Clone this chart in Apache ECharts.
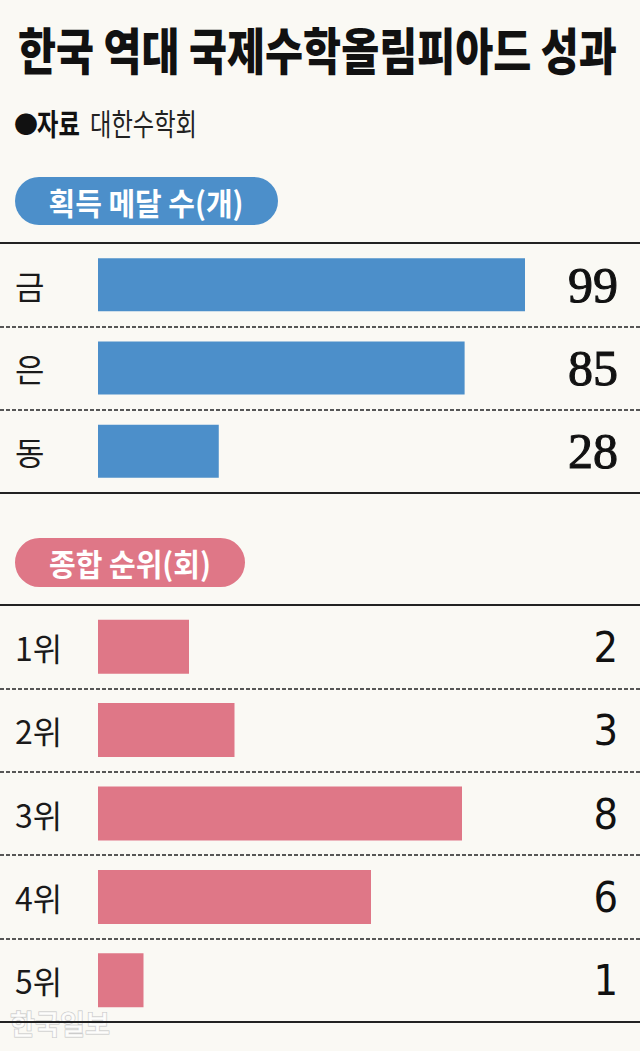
<!DOCTYPE html>
<html><head><meta charset="utf-8">
<script src="https://cdn.jsdelivr.net/npm/echarts@6/dist/echarts.min.js"></script>
<style>html,body{margin:0;padding:0;background:#FAF9F4}#c{width:640px;height:1051px}</style>
</head><body><div id="c"></div>
<script>
// ---- data ----
const titleText = '한국 역대 국제수학올림피아드 성과';
const sourceBullet = '●';
const sourceLabel = '자료';
const sourceName = '대한수학회';
const medalHeader = '획득 메달 수(개)';
const rankHeader = '종합 순위(회)';
const watermarkText = '한국일보';
const medalCategories = ['금', '은', '동'];
const medalValues = [99, 85, 28];
const rankCategories = ['1위', '2위', '3위', '4위', '5위'];
const rankValues = [2, 3, 8, 6, 1];

// ---- layout / style ----
const W = 640;
const KR = '"Noto Sans CJK KR", "Noto Sans", sans-serif';
const BLUE = '#4C8FCA';
const PINK = '#DF7787';
const INK = '#1a1a1a';
const LINE = '#222';
const PLOT_X0 = 98;          // where bars start
const MEDAL_PX = 427;        // px length of the longest medal bar
const RANK_PX = 364;         // px length of the longest rank bar

const mctx = document.createElement('canvas').getContext('2d');
function tw(text, size, weight, family) {
  mctx.font = weight + ' ' + size + 'px ' + family;
  return mctx.measureText(text).width;
}
function range(values, px) {
  const k = px / Math.max.apply(null, values);
  return { min: -PLOT_X0 / k, max: (W - PLOT_X0) / k };
}
const mR = range(medalValues, MEDAL_PX);
const rR = range(rankValues, RANK_PX);

function xAx(grid, pos, r) {
  return {
    gridIndex: grid, type: 'value', position: pos, min: r.min, max: r.max,
    axisLine: { show: true, onZero: false, lineStyle: { color: LINE, width: 2 } },
    axisTick: { show: false }, axisLabel: { show: false }, splitLine: { show: false }
  };
}
function yLeft(grid, cats) {
  return {
    gridIndex: grid, type: 'category', data: cats, inverse: true, position: 'left',
    axisLine: { show: false }, axisTick: { show: false },
    axisLabel: { inside: true, margin: 15, interval: 0, fontSize: 32, color: INK, fontFamily: KR },
    splitLine: { show: true, showMinLine: false, showMaxLine: false,
      lineStyle: { type: [4, 2], color: LINE, width: 1.5 } }
  };
}
function yRight(grid, vals, font, size, border) {
  return {
    gridIndex: grid, type: 'category', data: vals.map(String), inverse: true, position: 'right',
    axisLine: { show: false }, axisTick: { show: false }, splitLine: { show: false },
    axisLabel: { inside: true, margin: 22, interval: 0, fontSize: size,
      color: '#111', fontFamily: font, textBorderColor: '#111', textBorderWidth: border }
  };
}

// header graphics (text horizontally condensed to match the original lettering)
const titleSize = 50, titleW = 599;
const titleScale = titleW / tw(titleText, titleSize, '900', KR);
const srcSize = 30;
const srcScale = 107 / tw(sourceName, srcSize, 'normal', KR);
const pillSize = 31;
const p1Scale = 195 / tw(medalHeader, pillSize, 'bold', KR);
const p2Scale = 162 / tw(rankHeader, pillSize, 'bold', KR);
const wmScale = 100 / tw(watermarkText, 28, 'bold', KR);

function scaledText(x, y, sx, text, style, align) {
  return {
    type: 'group', x: x, y: y, scaleX: sx, silent: true,
    children: [{ type: 'text', x: 0, y: 0,
      style: Object.assign({ text: text, align: align || 'left', verticalAlign: 'middle' }, style) }]
  };
}

const graphic = [
  scaledText(18, 48, titleScale, titleText, { fontSize: titleSize, fontWeight: '900', fontFamily: KR, fill: '#111' }),
  scaledText(14, 122, 1, sourceBullet, { fontSize: 24, fontFamily: KR, fill: '#111' }),
  scaledText(37, 122, srcScale, sourceLabel, { fontSize: srcSize, fontWeight: 'bold', fontFamily: KR, fill: '#111' }),
  scaledText(90, 122, srcScale, sourceName, { fontSize: srcSize, fontWeight: 'normal', fontFamily: KR, fill: '#222' }),
  { type: 'rect', silent: true, shape: { x: 15, y: 177, width: 263, height: 48, r: 24 }, style: { fill: BLUE } },
  scaledText(146, 202, p1Scale, medalHeader, { fontSize: pillSize, fontWeight: 'bold', fontFamily: KR, fill: '#fff' }, 'center'),
  { type: 'rect', silent: true, shape: { x: 15, y: 538, width: 230, height: 49, r: 24.5 }, style: { fill: PINK } },
  scaledText(130, 563, p2Scale, rankHeader, { fontSize: pillSize, fontWeight: 'bold', fontFamily: KR, fill: '#fff' }, 'center'),
  Object.assign(scaledText(10, 1023, wmScale, watermarkText,
    { fontSize: 28, fontWeight: 'bold', fontFamily: KR, fill: 'rgba(255,255,255,0.7)', stroke: '#c4c4c4', lineWidth: 1 }), { z: 100 })
];

const chart = echarts.init(document.getElementById('c'), null, { renderer: 'svg', width: 640, height: 1051 });
chart.setOption({
  animation: false,
  backgroundColor: '#FAF9F4',
  graphic: graphic,
  grid: [
    { left: 0, right: 0, top: 243, height: 250 },
    { left: 0, right: 0, top: 605, height: 417 }
  ],
  xAxis: [xAx(0, 'top', mR), xAx(0, 'bottom', mR), xAx(1, 'top', rR), xAx(1, 'bottom', rR)],
  yAxis: [
    yLeft(0, medalCategories),
    yRight(0, medalValues, '"Liberation Serif", serif', 50, 1),
    yLeft(1, rankCategories),
    yRight(1, rankValues, '"DejaVu Sans Condensed", "DejaVu Sans", sans-serif', 43, 0)
  ],
  series: [
    { type: 'bar', xAxisIndex: 0, yAxisIndex: 0, data: medalValues, barWidth: 53, itemStyle: { color: BLUE }, silent: true },
    { type: 'bar', xAxisIndex: 2, yAxisIndex: 2, data: rankValues, barWidth: 54, itemStyle: { color: PINK }, silent: true }
  ]
});
</script>
</body></html>
